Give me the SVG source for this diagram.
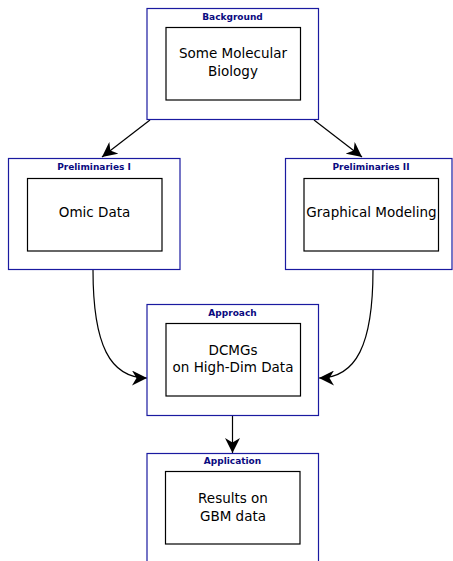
<svg xmlns="http://www.w3.org/2000/svg" width="453" height="561" viewBox="0 0 453 561">
  <style>
    .outer { fill: #ffffff; stroke: #1a1aa0; stroke-width: 1.2; }
    .inner { fill: #ffffff; stroke: #000000; stroke-width: 1.2; }
    .title { font-family: "DejaVu Sans", Verdana, sans-serif; font-weight: bold; font-size: 9px; fill: #0a0a80; text-anchor: middle; }
    .body { font-family: "DejaVu Sans", Verdana, sans-serif; font-size: 13.5px; fill: #000000; text-anchor: middle; }
    .edge { fill: none; stroke: #000000; stroke-width: 1.2; }
  </style>
  <defs>
    <marker id="arrow" viewBox="0 0 10 10" refX="10" refY="5" markerWidth="15" markerHeight="15" markerUnits="userSpaceOnUse" orient="auto">
      <path d="M0,0 L10,5 L0,10 L3,5 Z" fill="#000000"/>
    </marker>
  </defs>
  <rect width="453" height="561" fill="#ffffff"/>

  <g id="connectors">
    <path class="edge" d="M150,120 L102,157" marker-end="url(#arrow)"/>
    <path class="edge" d="M314,120 L362,157" marker-end="url(#arrow)"/>
    <path class="edge" d="M93,270 C93,345 110,378 147,378" marker-end="url(#arrow)"/>
    <path class="edge" d="M373,270 C373,345 356,378 319,378" marker-end="url(#arrow)"/>
    <path class="edge" d="M232.5,415 L232.5,453" marker-end="url(#arrow)"/>
  </g>

  <g id="background">
    <rect class="outer" x="147" y="8.5" width="171.5" height="111"/>
    <text class="title" x="232.5" y="20">Background</text>
    <rect class="inner" x="166" y="27.5" width="134.5" height="72.5"/>
    <text class="body" x="233" y="58">Some Molecular</text>
    <text class="body" x="233" y="76">Biology</text>
  </g>

  <g id="preliminaries-1">
    <rect class="outer" x="8.5" y="158.5" width="171.5" height="111"/>
    <text class="title" x="94" y="170">Preliminaries I</text>
    <rect class="inner" x="27.5" y="178.5" width="134.5" height="72.5"/>
    <text class="body" x="94.5" y="217">Omic Data</text>
  </g>

  <g id="preliminaries-2">
    <rect class="outer" x="285.5" y="158.5" width="166.5" height="111"/>
    <text class="title" x="371" y="170">Preliminaries II</text>
    <rect class="inner" x="304" y="178.5" width="134.5" height="72.5"/>
    <text class="body" x="371.5" y="217">Graphical Modeling</text>
  </g>

  <g id="approach">
    <rect class="outer" x="147" y="304.5" width="171.5" height="111"/>
    <text class="title" x="232.5" y="316">Approach</text>
    <rect class="inner" x="166" y="323.5" width="134.5" height="72.5"/>
    <text class="body" x="233" y="355">DCMGs</text>
    <text class="body" x="233" y="372">on High-Dim Data</text>
  </g>

  <g id="application">
    <rect class="outer" x="147" y="453.5" width="171.5" height="120"/>
    <text class="title" x="232.5" y="464">Application</text>
    <rect class="inner" x="165.5" y="471.5" width="134.5" height="72.5"/>
    <text class="body" x="233" y="503">Results on</text>
    <text class="body" x="233" y="521">GBM data</text>
  </g>
</svg>
